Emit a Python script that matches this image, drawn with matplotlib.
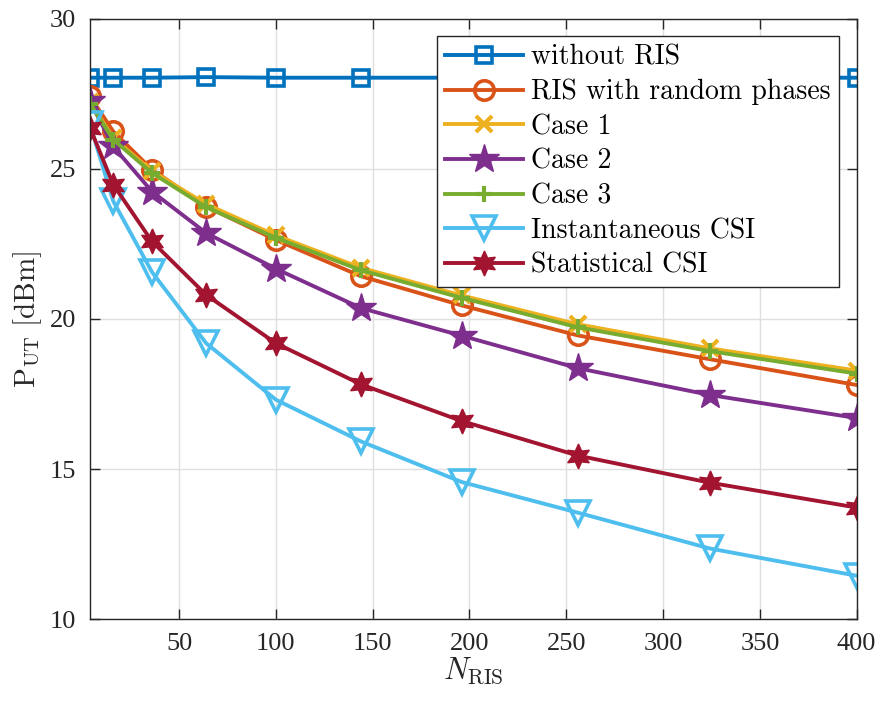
import numpy as np
import matplotlib
matplotlib.use("Agg")
import matplotlib.pyplot as plt

plt.rcParams['font.family'] = ['Liberation Serif', 'DejaVu Serif']
plt.rcParams['mathtext.fontset'] = 'cm'

# Number of RIS elements
n_ris = [4, 16, 36, 64, 100, 144, 196, 256, 324, 400]

# Transmit power of the UT [dBm] for each scheme
p_without_ris = [28.03, 28.03, 28.03, 28.05, 28.03, 28.03, 28.03, 28.03, 28.03, 28.03]
p_random = [27.41, 26.24, 24.97, 23.74, 22.63, 21.42, 20.45, 19.45, 18.66, 17.80]
p_case1 = [27.22, 26.02, 24.92, 23.82, 22.78, 21.70, 20.78, 19.82, 19.02, 18.28]
p_case2 = [27.25, 25.74, 24.24, 22.86, 21.67, 20.36, 19.44, 18.36, 17.47, 16.70]
p_case3 = [27.17, 25.97, 24.86, 23.72, 22.70, 21.62, 20.70, 19.72, 18.93, 18.18]
p_inst = [26.48, 23.92, 21.56, 19.19, 17.31, 15.92, 14.57, 13.55, 12.36, 11.45]
p_stat = [26.36, 24.47, 22.58, 20.80, 19.19, 17.82, 16.60, 15.45, 14.55, 13.72]

labels = ["without RIS", "RIS with random phases", "Case 1", "Case 2",
          "Case 3", "Instantaneous CSI", "Statistical CSI"]
series = [p_without_ris, p_random, p_case1, p_case2, p_case3, p_inst, p_stat]
colors = ["#0072BD", "#D95319", "#EDB120", "#7E2F8E", "#77AC30", "#4DBEEE", "#A2142F"]

# marker, size, filled, edge width
styles = [("s", 12, False, 2.6),
          ("o", 14, False, 2.6),
          ("x", 11, False, 3.0),
          ("*", 22, True, 1.0),
          ("+", 12, False, 3.0),
          ("v", 17, False, 2.6),
          ((6, 1, 0), 18, True, 1.0)]

fig = plt.figure(figsize=(8.8, 7.02), dpi=100)
ax = fig.add_axes([0.1023, 0.1178, 0.8712, 0.8558])

for y, lab, c, (m, ms, filled, mew) in zip(series, labels, colors, styles):
    ax.plot(n_ris, y, color=c, lw=2.8, marker=m, ms=ms, mew=mew,
            mfc=c if filled else "none", label=lab)

ax.set_xlim(4, 400)
ax.set_ylim(10, 30)
ax.set_xticks([50, 100, 150, 200, 250, 300, 350, 400])
ax.set_yticks([10, 15, 20, 25, 30])
ax.grid(True, color="#dfdfdf", lw=1)
ax.set_axisbelow(True)
ax.tick_params(direction="in", top=True, right=True, length=7, width=1,
               labelsize=19, colors="#262626", pad=10)
for t in ax.get_xticklabels() + ax.get_yticklabels():
    t.set_fontfamily("Liberation Serif")
for s in ax.spines.values():
    s.set_color("#262626")
    s.set_linewidth(1)

ax.set_xlabel(r"$N_{\mathrm{RIS}}$", fontsize=22, color="#262626", labelpad=0)
ax.set_ylabel(r"$\mathrm{P}_{\mathrm{UT}}\ [\mathrm{dBm}]$", fontsize=21,
              color="#262626", labelpad=4)

leg = ax.legend(loc="upper right", bbox_to_anchor=(0.977, 0.971),
                prop={"family": "cmr10", "size": 20},
                handlelength=2.8, borderpad=0.3, labelspacing=0.3,
                handletextpad=0.3, borderaxespad=0, fancybox=False,
                framealpha=1, edgecolor="#262626")
leg.get_frame().set_linewidth(1)

fig.savefig("out.png", dpi=100)
